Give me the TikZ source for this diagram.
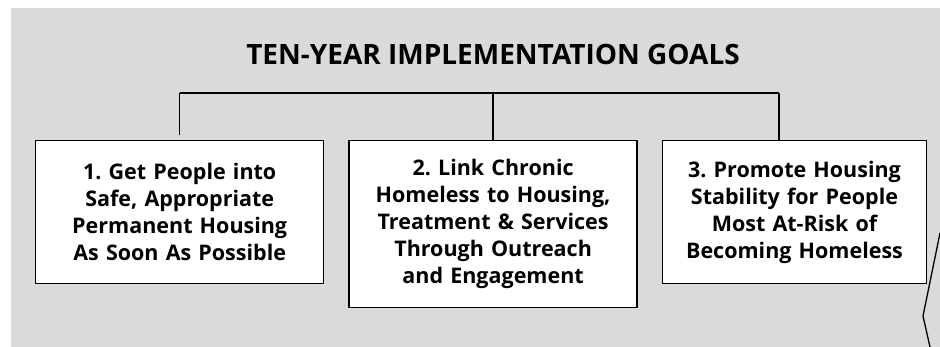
\documentclass[tikz,border=0pt]{standalone}
\usepackage{fontspec}
\setmainfont{Open Sans}
\usetikzlibrary{positioning}

\definecolor{panel}{RGB}{218,218,218}
\frenchspacing

\begin{document}
\begin{tikzpicture}[ x = 1pt, y = 1pt
                   , node distance = 0pt and 24pt
                   , font = \bfseries\fontsize{21.5}{27}\selectfont
                   , every node/.style = { align = center
                                         , inner sep = 0pt }
                   ]

    \tikzset{ goal/.style n args = {2}{ draw = black, fill = white
                                      , line width = 1.4pt
                                      , text width = #1, minimum height = #2 }
            , bus/.style = {line width = 1.3pt}}

    \useasboundingbox (0,0) rectangle (940,-347);
    \fill[panel] (11,-8) rectangle (940,-347);
    \draw[line width = 1.3pt] (940,-233) -- (923,-316) -- (930,-347);
    %%
    %% Nodes
    %%
    \node (title) at (493,-54) [font = \bfseries\fontsize{28}{32}\selectfont]
      {TEN-YEAR IMPLEMENTATION GOALS};
    \node (get)  [goal = {288pt}{143pt}, anchor = north west] at (35,-140)
      {1. Get People into\\ Safe, Appropriate\\ Permanent Housing\\ As Soon As Possible};
    \node (link) [goal = {288pt}{167pt}, right = of get.north east, anchor = north west]
      {2. Link Chronic\\ Homeless to Housing,\\ Treatment \& Services\\ Through Outreach\\ and Engagement};
    \node (stab) [goal = {264pt}{143pt}, right = of link.north east, anchor = north west]
      {3. Promote Housing\\ Stability for People\\ Most At-Risk of\\ Becoming Homeless};

    \coordinate (busget)  at (get.north  |- 0,-93);
    \coordinate (buslink) at (link.north |- 0,-93);
    \coordinate (busstab) at (779,-93);
    %%
    %% Connectors
    %%
    \draw[bus] (busget) -- (busstab);
    \draw[bus] (busget) -- ([yshift = 5pt]get.north);
    \draw[bus] (buslink) -- (link.north);
    \draw[bus] (busstab) -- (busstab |- stab.north);
  \end{tikzpicture}
\end{document}
